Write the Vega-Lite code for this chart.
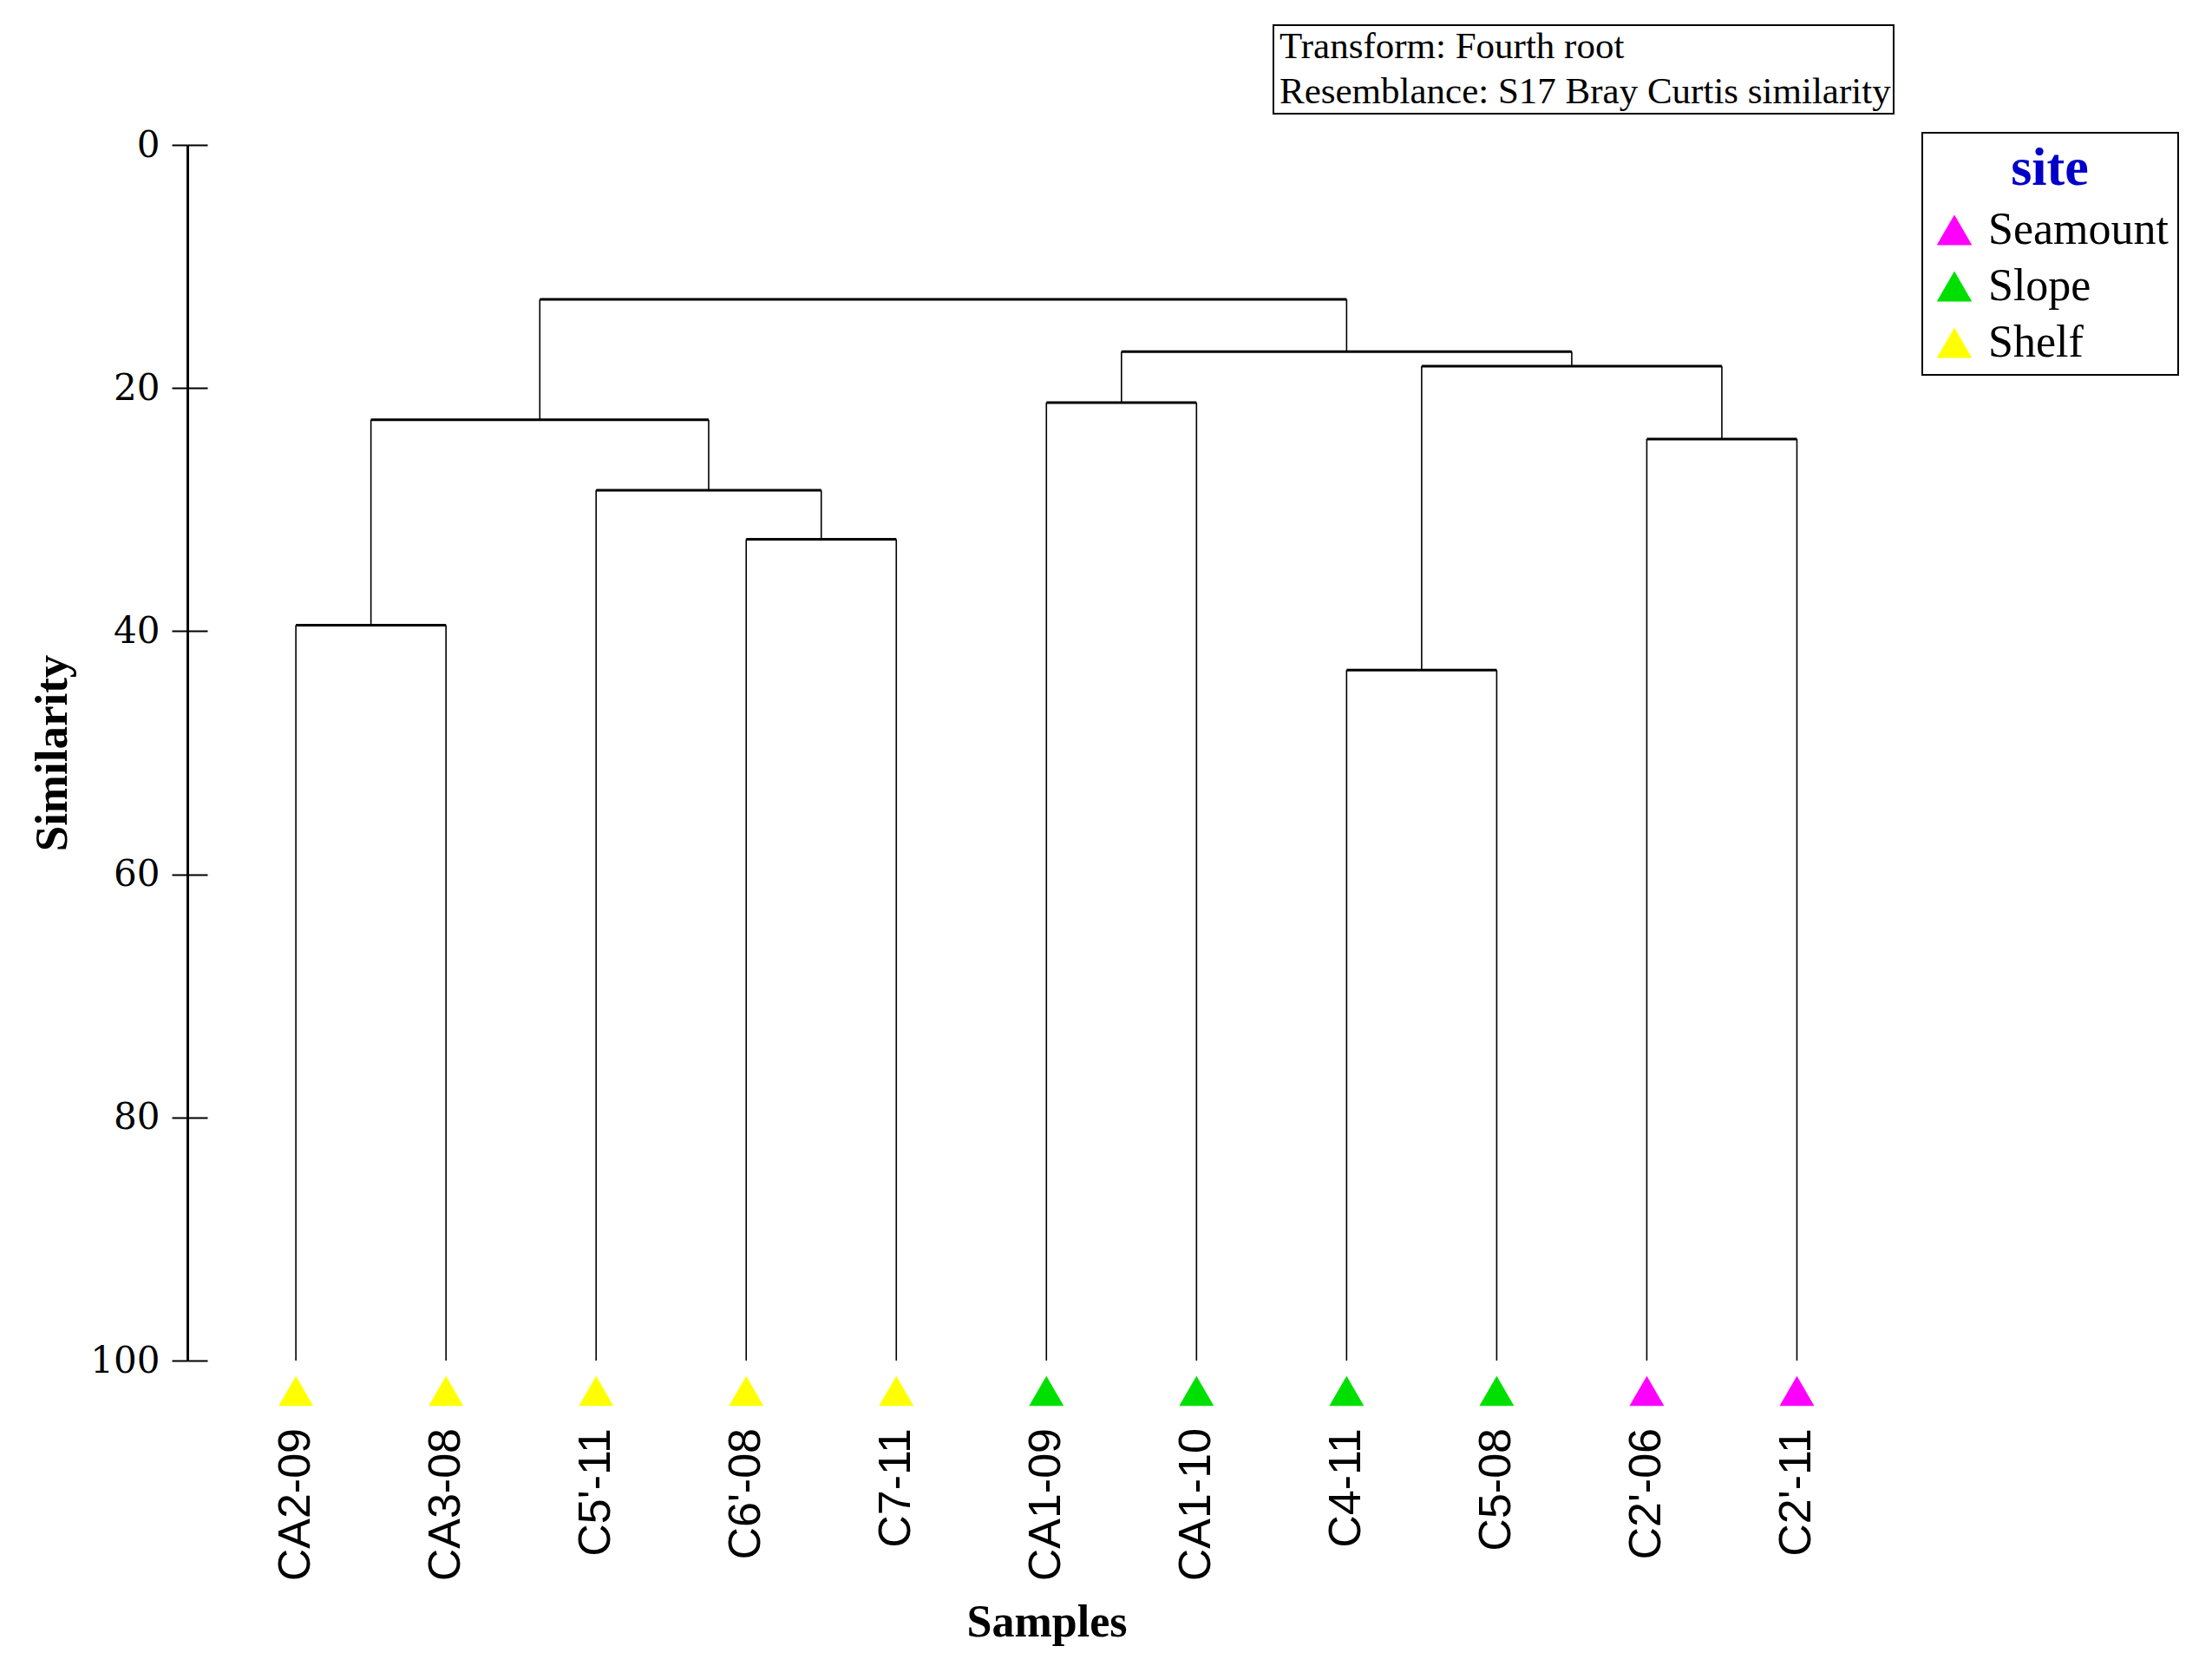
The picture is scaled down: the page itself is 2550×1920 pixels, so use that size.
{
  "$schema": "https://vega.github.io/schema/vega-lite/v6.json",
  "width": 1942,
  "height": 1401,
  "autosize": {"type": "none"},
  "padding": {"left": 216, "top": 167, "right": 392, "bottom": 352},
  "background": "white",
  "title": {"text": "Samples", "orient": "bottom", "anchor": "middle", "frame": "group", "font": "Liberation Serif",
            "fontSize": 52, "fontWeight": "bold", "color": "black", "offset": 23, "dx": 20},
  "config": {
    "view": {"stroke": null},
    "font": "Liberation Serif",
    "legend": {"strokeWidth": 2}
  },
  "datasets": {
    "hlinks": [
      {"x1": 1, "x2": 2, "h": 39.5},
      {"x1": 4, "x2": 5, "h": 32.45},
      {"x1": 3, "x2": 4.5, "h": 28.4},
      {"x1": 1.5, "x2": 3.75, "h": 22.6},
      {"x1": 6, "x2": 7, "h": 21.2},
      {"x1": 8, "x2": 9, "h": 43.2},
      {"x1": 10, "x2": 11, "h": 24.2},
      {"x1": 8.5, "x2": 10.5, "h": 18.2},
      {"x1": 6.5, "x2": 9.5, "h": 17.0},
      {"x1": 2.625, "x2": 8, "h": 12.7}
    ],
    "vlinks": [
      {"x": 1, "top": 39.5, "bottom": 100},
      {"x": 2, "top": 39.5, "bottom": 100},
      {"x": 3, "top": 28.4, "bottom": 100},
      {"x": 4, "top": 32.45, "bottom": 100},
      {"x": 5, "top": 32.45, "bottom": 100},
      {"x": 6, "top": 21.2, "bottom": 100},
      {"x": 7, "top": 21.2, "bottom": 100},
      {"x": 8, "top": 43.2, "bottom": 100},
      {"x": 9, "top": 43.2, "bottom": 100},
      {"x": 10, "top": 24.2, "bottom": 100},
      {"x": 11, "top": 24.2, "bottom": 100},
      {"x": 1.5, "top": 22.6, "bottom": 39.5},
      {"x": 3.75, "top": 22.6, "bottom": 28.4},
      {"x": 4.5, "top": 28.4, "bottom": 32.45},
      {"x": 2.625, "top": 12.7, "bottom": 22.6},
      {"x": 6.5, "top": 17.0, "bottom": 21.2},
      {"x": 9.5, "top": 17.0, "bottom": 18.2},
      {"x": 8.5, "top": 18.2, "bottom": 43.2},
      {"x": 10.5, "top": 18.2, "bottom": 24.2},
      {"x": 8, "top": 12.7, "bottom": 17.0}
    ],
    "leaves": [
      {"sample": "CA2-09", "pos": 1, "site": "Shelf", "sim": 100},
      {"sample": "CA3-08", "pos": 2, "site": "Shelf", "sim": 100},
      {"sample": "C5'-11", "pos": 3, "site": "Shelf", "sim": 100},
      {"sample": "C6'-08", "pos": 4, "site": "Shelf", "sim": 100},
      {"sample": "C7-11", "pos": 5, "site": "Shelf", "sim": 100},
      {"sample": "CA1-09", "pos": 6, "site": "Slope", "sim": 100},
      {"sample": "CA1-10", "pos": 7, "site": "Slope", "sim": 100},
      {"sample": "C4-11", "pos": 8, "site": "Slope", "sim": 100},
      {"sample": "C5-08", "pos": 9, "site": "Slope", "sim": 100},
      {"sample": "C2'-06", "pos": 10, "site": "Seamount", "sim": 100},
      {"sample": "C2'-11", "pos": 11, "site": "Seamount", "sim": 100}
    ],
    "notes": [
      {"note": "Transform: Fourth root"},
      {"note": "Resemblance: S17 Bray Curtis similarity"}
    ]
  },
  "resolve": {"axis": {"y": "independent"}},
  "layer": [
    {
      "data": {"name": "hlinks"},
      "mark": {"type": "rule", "color": "black", "strokeWidth": 3},
      "encoding": {
        "x": {"field": "x1", "type": "quantitative", "scale": {"domain": [0.277, 11.5], "nice": false, "zero": false},
              "axis": null},
        "x2": {"field": "x2"},
        "y": {"field": "h", "type": "quantitative", "scale": {"domain": [0, 100], "reverse": true, "nice": false, "zero": false},
              "axis": {"orient": "left", "values": [0, 20, 40, 60, 80, 100], "grid": false,
                       "domain": true, "domainColor": "black", "domainWidth": 3,
                       "ticks": true, "tickSize": 18, "tickWidth": 2, "tickColor": "black",
                       "labelFont": "DejaVu Serif", "labelFontSize": 42, "labelColor": "black", "labelPadding": 14,
                       "title": "Similarity", "titleFont": "Liberation Serif", "titleFontSize": 53, "titleFontWeight": "bold",
                       "titleColor": "black", "titlePadding": 16}}
      }
    },
    {
      "data": {"name": "vlinks"},
      "mark": {"type": "rule", "color": "black", "strokeWidth": 1.6},
      "encoding": {
        "x": {"field": "x", "type": "quantitative", "axis": null},
        "y": {"field": "top", "type": "quantitative",
              "axis": {"orient": "left", "values": [0, 20, 40, 60, 80, 100], "grid": false, "domain": false,
                       "labels": false, "ticks": true, "tickSize": 23, "tickWidth": 2, "tickColor": "black",
                       "offset": -23, "title": null}},
        "y2": {"field": "bottom"}
      }
    },
    {
      "data": {"name": "leaves"},
      "mark": {"type": "point", "shape": "triangle-up", "filled": true, "size": 1600, "opacity": 1, "yOffset": 35},
      "encoding": {
        "x": {"field": "pos", "type": "quantitative", "axis": null},
        "y": {"field": "sim", "type": "quantitative", "axis": null},
        "color": {"field": "site", "type": "nominal",
                  "scale": {"domain": ["Seamount", "Slope", "Shelf"], "range": ["#ff00ff", "#00e000", "#ffff00"]},
                  "legend": {"orient": "none", "legendX": 2000, "legendY": -14, "direction": "vertical",
                             "title": "site", "titleFont": "Liberation Serif", "titleFontSize": 62, "titleFontWeight": "bold",
                             "titleColor": "#0000c8", "titleAlign": "center", "titleAnchor": "middle", "titlePadding": 13,
                             "labelFont": "Liberation Serif", "labelFontSize": 52, "labelColor": "black", "labelLimit": 1000,
                             "labelOffset": 13, "symbolType": "triangle-up", "symbolSize": 1650, "symbolStrokeWidth": 0,
                             "symbolOpacity": 1, "rowPadding": 13, "padding": 11, "strokeColor": "black"}}
      }
    },
    {
      "data": {"name": "leaves"},
      "mark": {"type": "text", "angle": 270, "align": "right", "baseline": "middle", "yOffset": 78,
               "font": "Liberation Sans", "fontSize": 52, "color": "black"},
      "encoding": {
        "x": {"field": "pos", "type": "quantitative", "axis": null},
        "y": {"field": "sim", "type": "quantitative", "axis": null},
        "text": {"field": "sample"}
      }
    },
    {
      "data": {"name": "notes"},
      "mark": {"type": "point", "opacity": 0},
      "encoding": {
        "shape": {"field": "note", "type": "nominal", "sort": null,
                  "legend": {"orient": "none", "legendX": 1252, "legendY": -138, "title": null,
                             "labelFont": "Liberation Serif", "labelFontSize": 43, "labelColor": "black", "labelLimit": 1000,
                             "labelOffset": -39, "symbolSize": 0, "symbolOpacity": 0, "rowPadding": 8, "padding": 3,
                             "strokeColor": "black"}}
      }
    }
  ]
}
